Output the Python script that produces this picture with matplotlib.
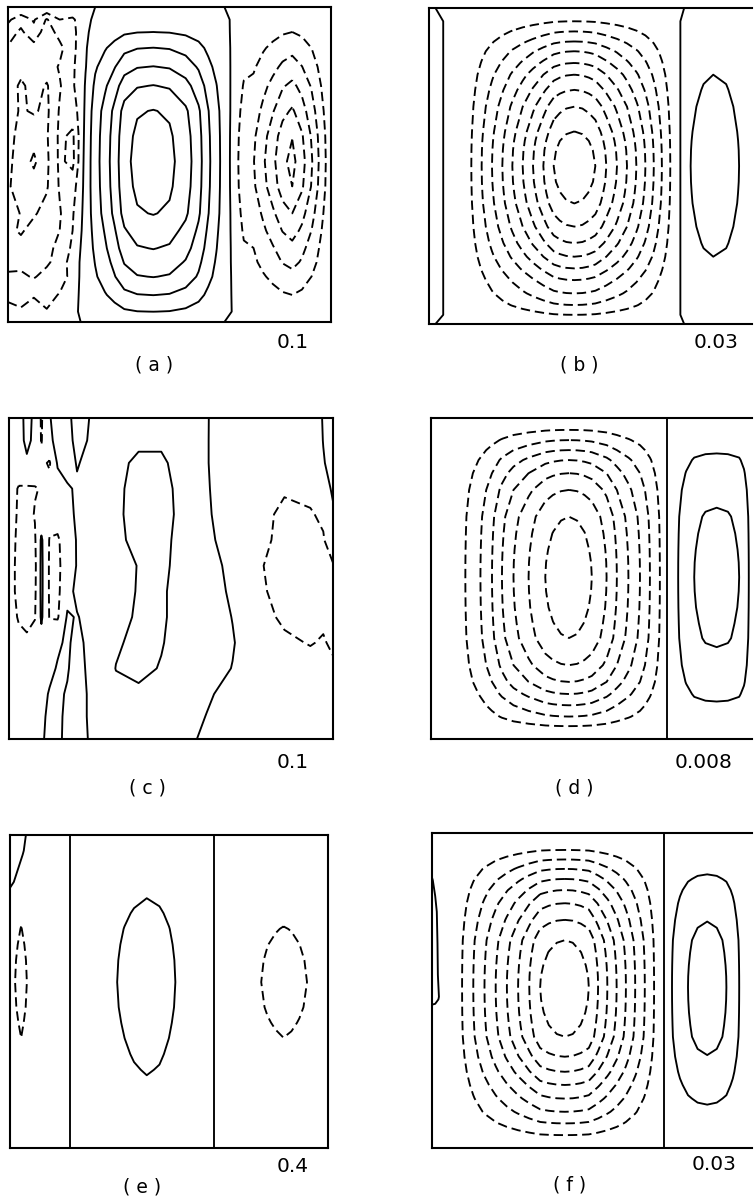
import numpy as np
import matplotlib
matplotlib.use("Agg")
import matplotlib.pyplot as plt

# ---------------- data (values in units of the contour interval) ----------------
# panel (a): positive cell + right negative cell (profiles), irregular left block
xa = [0, 0.04, 0.08, 0.12, 0.16, 0.20, 0.225, 0.24, 0.27, 0.30, 0.33, 0.36, 0.40, 0.45,
      0.50, 0.55, 0.59, 0.62, 0.645, 0.67, 0.70, 0.73, 0.76, 0.79, 0.82, 0.85, 0.88,
      0.91, 0.94, 0.97, 1.0]
xa_pos = [0, 0, 0, 0, 0, 0, 0, 0.8, 1.6, 2.5, 3.5, 4.7, 5.3, 5.45, 5.25, 4.5, 3.4, 2.2,
          1.4, 0.55, 0, 0, 0, 0, 0, 0, 0, 0, 0, 0, 0]
xa_neg = [0, 0, 0, 0, 0, 0, 0, 0, 0, 0, 0, 0, 0, 0, 0, 0, 0, 0, 0, 0,
          -0.42, -1.76, -1.95, -2.85, -3.75, -4.75, -5.3, -4.4, -3.1, -1.6, -0.3]
ya = [0, 0.04, 0.08, 0.13, 0.19, 0.25, 0.33, 0.41, 0.49, 0.57, 0.655, 0.71, 0.766, 0.81,
      0.856, 0.914, 0.967, 1.0]
ya_pos = [0, 0.09, 0.185, 0.37, 0.556, 0.74, 0.926, 0.98, 1.0, 0.98, 0.926, 0.83, 0.74,
          0.65, 0.556, 0.37, 0.185, 0]
ya_neg = [0, 0.1, 0.19, 0.32, 0.46, 0.61, 0.78, 0.935, 1.0, 0.943, 0.755, 0.64, 0.51,
          0.43, 0.32, 0.189, 0.08, 0]
a_left = [  # columns at xa[0:8], rows at ya
    [0.0, 0.0, 0.0, 0.0, 0.0, 0.0, 0.0, 0.0],
    [-0.8, -1.6, -0.9, -2.1, -1.0, -1.2, -0.5, -0.2],
    [-1.5, -2.2, -1.3, -2.6, -1.6, -1.3, -0.6, -0.15],
    [-2.1, -2.0, -2.4, -2.0, -2.3, -1.2, -0.7, -0.1],
    [-2.3, -2.6, -2.2, -2.5, -1.9, -1.1, -0.7, -0.05],
    [-2.4, -3.2, -2.6, -3.1, -2.1, -1.1, -0.6, 0.1],
    [-2.6, -3.1, -2.9, -3.2, -1.9, -1.5, -0.6, 0.2],
    [-2.7, -3.3, -3.6, -3.1, -1.8, -2.2, -0.6, 0.3],
    [-2.8, -3.4, -4.2, -3.2, -1.8, -2.3, -0.5, 0.35],
    [-2.9, -3.4, -3.5, -3.1, -1.9, -1.4, -0.4, 0.4],
    [-2.1, -3.1, -3.1, -2.7, -2.1, -1.1, -0.2, 0.4],
    [-2.8, -3.1, -2.7, -2.4, -2.0, -1.0, -0.1, 0.4],
    [-2.5, -2.7, -2.5, -2.2, -1.8, -0.8, 0.02, 0.4],
    [-2.2, -2.3, -2.0, -2.2, -1.5, -0.6, 0.1, 0.35],
    [-1.9, -1.8, -2.1, -1.6, -1.7, -0.5, 0.1, 0.3],
    [-1.3, -1.6, -1.1, -1.5, -0.9, -0.3, 0.1, 0.2],
    [-0.6, -0.8, -0.5, -0.9, -0.4, -0.1, 0.05, 0.1],
    [0.0, 0.0, 0.0, 0.0, 0.0, 0.0, 0.0, 0.0],
]

# panel (b)
xb = [0, 0.02, 0.05, 0.09, 0.131, 0.163, 0.195, 0.227, 0.258, 0.29, 0.322, 0.354, 0.386,
      0.405, 0.425, 0.45, 0.475, 0.495, 0.515, 0.549, 0.582, 0.613, 0.642, 0.670, 0.696,
      0.721, 0.747, 0.765, 0.79, 0.81, 0.85, 0.88, 0.92, 0.96, 1.0]
xb_prof = [0.3, 0.2, -0.05, -0.5, -1, -2, -3, -4, -5, -6, -7, -8, -9,
           -9.3, -9.51, -9.6, -9.51, -9.3, -9, -8, -7, -6, -5, -4, -3,
           -2, -1, -0.45, 0.4, 1.0, 1.45, 1.6, 1.45, 1.0, 0.2]
yb = [0, 0.042, 0.074, 0.106, 0.137, 0.174, 0.211, 0.259, 0.312, 0.391, 0.42, 0.45, 0.5,
      0.55, 0.585, 0.618, 0.692, 0.744, 0.787, 0.824, 0.861, 0.903, 0.940, 0.971, 1.0]
yb_prof = [0, 0.104, 0.208, 0.313, 0.417, 0.521, 0.625, 0.729, 0.833, 0.938, 0.967, 0.987,
           1.0, 0.988, 0.965, 0.938, 0.833, 0.729, 0.625, 0.521, 0.417, 0.313, 0.208,
           0.104, 0]

# panel (c)
xc = [0, 0.03, 0.055, 0.08, 0.10, 0.125, 0.15, 0.18, 0.21, 0.26, 0.33, 0.40, 0.47, 0.54,
      0.61, 0.69, 0.77, 0.85, 0.93, 0.97, 1.0]
yc = [0, 0.07, 0.14, 0.22, 0.30, 0.38, 0.46, 0.54, 0.62, 0.70, 0.78, 0.86, 0.93, 1.0]
c_vals = [
    [-0.6, -0.4, 0.3, -0.2, -1.1, -0.05, 0.3, 0.2, -0.3, 0.1, 0.6, 0.75, 0.8, 0.6, 0.05, -0.55, -0.7, -0.8, -0.5, 0.05, 0.3],
    [-0.7, -0.5, 0.3, -0.3, -1.05, -0.2, 0.3, 0.3, -0.25, 0.15, 0.7, 0.85, 0.9, 0.7, 0.05, -0.6, -0.75, -0.85, -0.55, 0.02, 0.3],
    [-0.8, -0.6, -0.2, -0.5, -0.8, -1.1, 0.1, 0.35, -0.05, 0.25, 0.8, 1.15, 1.1, 0.75, 0.05, -0.6, -0.8, -0.9, -0.7, -0.05, 0.25],
    [-0.7, -1.05, -1.1, -1.05, -0.95, -0.7, -0.4, -0.1, 0.1, 0.3, 0.85, 1.25, 1.2, 0.8, 0.08, -0.55, -0.8, -0.95, -0.85, -0.3, 0.1],
    [-0.3, -1.2, -1.3, -0.95, -0.7, -0.6, -0.5, -0.1, 0.05, 0.3, 0.85, 1.3, 1.25, 0.8, 0.12, -0.5, -0.85, -1.1, -1.05, -0.9, -0.1],
    [-0.4, -1.3, -1.5, -1.1, 0.15, -1.05, -1.15, -0.4, 0.05, 0.35, 0.8, 1.25, 1.2, 0.75, 0.2, -0.4, -0.85, -1.15, -1.15, -1.05, -0.6],
    [-0.4, -1.4, -1.7, -1.2, 0.2, -1.1, -1.2, -0.5, 0.05, 0.4, 0.7, 1.03, 1.15, 0.75, 0.3, -0.2, -0.95, -1.2, -1.2, -1.15, -1.05],
    [-0.4, -1.4, -1.6, -1.15, 0.2, -1.1, -1.2, -0.3, 0.2, 0.4, 0.7, 1.05, 1.1, 0.7, 0.35, -0.12, -0.9, -1.2, -1.25, -1.2, -1.1],
    [-0.5, -1.1, -1.3, -1.05, 0.15, -1.05, -1.1, 0.1, -0.05, 0.35, 0.75, 1.1, 1.1, 0.7, 0.4, -0.02, -0.8, -1.1, -1.15, -1.1, -1.05],
    [-0.5, -0.7, -0.8, -0.6, -0.4, -0.3, -0.1, 0.1, -0.2, 0.3, 0.9, 1.2, 1.05, 0.65, 0.4, 0.05, -0.5, -0.9, -1.03, -0.95, -1.1],
    [-0.5, -0.6, -0.6, -0.5, -0.35, -0.15, 0.05, 0.05, -0.25, 0.25, 1.02, 1.2, 0.95, 0.55, 0.3, -0.02, -0.5, -0.75, -0.8, -0.8, -0.9],
    [-0.5, -0.5, -0.5, -0.4, -0.2, 0.05, 0.1, -0.05, -0.3, 0.2, 0.8, 0.85, 0.6, 0.35, 0.1, -0.25, -0.5, -0.6, -0.6, -0.6, -0.6],
    [-0.5, -0.5, -0.45, -0.35, -0.1, 0.1, 0.1, -0.1, -0.3, 0.2, 0.6, 0.6, 0.45, 0.3, -0.02, -0.35, -0.5, -0.55, -0.55, -0.5, -0.5],
    [-0.5, -0.45, -0.4, -0.3, -0.05, 0.1, 0.08, -0.1, -0.3, 0.15, 0.5, 0.5, 0.4, 0.2, -0.15, -0.4, -0.5, -0.5, -0.5, -0.5, -0.5],
]

# panel (d)
xd = [0, 0.05, 0.107, 0.154, 0.19, 0.221, 0.257, 0.304, 0.356, 0.38, 0.405, 0.43, 0.455,
      0.478, 0.501, 0.547, 0.579, 0.615, 0.651, 0.682, 0.713, 0.728, 0.745, 0.77, 0.795,
      0.82, 0.855, 0.89, 0.925, 0.96, 0.975, 0.99, 1.0]
xd_prof = [0, -0.45, -1, -2, -3, -4, -5, -6, -7, -7.27, -7.44, -7.5, -7.44, -7.27, -7,
           -6, -5, -4, -3, -2, -1, -0.35, 0.35, 1.0, 1.55, 2.0, 2.2, 2.25, 2.2, 2.0, 1.6,
           1.0, 0.6]
yd = [0, 0.037, 0.069, 0.100, 0.131, 0.172, 0.224, 0.307, 0.36, 0.41, 0.45, 0.496, 0.54,
      0.59, 0.64, 0.686, 0.77, 0.822, 0.86, 0.895, 0.93, 0.96, 1.0]
yd_prof = [0.02, 0.133, 0.267, 0.4, 0.533, 0.667, 0.8, 0.933, 0.966, 0.986, 0.996, 1.0,
           0.996, 0.984, 0.96, 0.933, 0.8, 0.667, 0.533, 0.4, 0.267, 0.133, 0.02]

# panel (e)
xe = [0, 0.016, 0.035, 0.053, 0.10, 0.15, 0.23, 0.28, 0.31, 0.337, 0.36, 0.39, 0.43, 0.47,
      0.50, 0.52, 0.58, 0.63, 0.68, 0.73, 0.76, 0.79, 0.81, 0.835, 0.86, 0.885, 0.91,
      0.934, 0.97, 1.0]
xe_prof = [-0.6, -1.0, -1.2, -1.0, -0.55, -0.25, 0.25, 0.6, 0.8, 1.0, 1.2, 1.42, 1.6, 1.45,
           1.2, 1.0, 0.5, 0.1, -0.3, -0.65, -0.85, -1.0, -1.08, -1.15, -1.2, -1.16, -1.09,
           -1.0, -0.7, -0.5]
ye = [0, 0.05, 0.1, 0.15, 0.2, 0.25, 0.3, 0.35, 0.4, 0.47, 0.55, 0.6, 0.65, 0.7, 0.75,
      0.8, 0.85, 0.93, 1.0]
ye_prof = [0.03, 0.15, 0.3, 0.46, 0.62, 0.745, 0.85, 0.92, 0.97, 1.0, 0.96, 0.9, 0.83,
           0.75, 0.66, 0.56, 0.45, 0.25, 0.03]
# small corner feature of (e)
xe_corner = [0, 0.02, 0.04, 0.06]
ye_corner = [0, 0.05, 0.1, 0.15, 0.2]
e_corner = [[1, 1, 1, 0], [1, 0.9, 0.6, 0], [1, 0.7, 0.2, 0], [0.8, 0.3, 0, 0], [0, 0, 0, 0]]

# panel (f)
xf = [0, 0.05, 0.094, 0.129, 0.164, 0.199, 0.234, 0.269, 0.304, 0.338, 0.365, 0.39, 0.415,
      0.44, 0.465, 0.49, 0.519, 0.548, 0.577, 0.606, 0.635, 0.665, 0.694, 0.712, 0.738,
      0.75, 0.775, 0.80, 0.83, 0.86, 0.89, 0.92, 0.94, 0.96, 1.0]
xf_prof = [0, -0.55, -1, -2, -3, -4, -5, -6, -7, -8, -8.29, -8.45, -8.5, -8.45, -8.28, -8,
           -7, -6, -5, -4, -3, -2, -1, -0.45, 0.45, 1.0, 1.55, 2.0, 2.3, 2.4, 2.3, 2.0,
           1.55, 1.0, 0.4]
yf = [0, 0.054, 0.084, 0.114, 0.146, 0.181, 0.223, 0.276, 0.340, 0.38, 0.42, 0.455, 0.49,
      0.53, 0.57, 0.61, 0.647, 0.710, 0.758, 0.800, 0.843, 0.885, 0.922, 0.959, 1.0]
yf_prof = [0.02, 0.118, 0.235, 0.353, 0.471, 0.588, 0.706, 0.824, 0.941, 0.968, 0.987,
           0.997, 1.0, 0.996, 0.985, 0.965, 0.941, 0.824, 0.706, 0.588, 0.471, 0.353,
           0.235, 0.118, 0.02]
# thin sliver along the left wall of (f)
xf_sliver = [0.0, 0.01, 0.02, 0.03]
yf_sliver = [0.10, 0.15, 0.25, 0.35, 0.45, 0.52, 0.57]
f_sliver = [[0, 0, 0, 0], [0.6, 0.2, 0, 0], [1, 0.8, 0.2, 0], [1, 1, 0.3, 0],
            [1, 1, 0.4, 0], [1, 0.9, 0.6, 0], [0, 0, 0, 0]]

intervals = ["0.1", "0.03", "0.1", "0.008", "0.4", "0.03"]
panel_names = ["( a )", "( b )", "( c )", "( d )", "( e )", "( f )"]

# ---------------- figure ----------------
W, H = 754, 1201
fig = plt.figure(figsize=(W / 100, H / 100), dpi=100)
fig.patch.set_facecolor("white")

DASH = (0, (5.0, 2.6))
LW = 1.35


def make_axes(left, top, right, bottom, right_spine=True):
    ax = fig.add_axes([left / W, 1 - bottom / H, (right - left) / W, (bottom - top) / H])
    ax.set_xlim(0, 1)
    ax.set_ylim(1, 0)
    ax.set_xticks([])
    ax.set_yticks([])
    for s in ax.spines.values():
        s.set_linewidth(1.5)
    ax.spines["right"].set_visible(right_spine)
    return ax


def draw_field(ax, x, y, Z):
    Z = np.asarray(Z, dtype=float)
    lv = np.arange(np.floor(Z.min()), np.ceil(Z.max()) + 1)
    lv = lv[(lv > Z.min()) & (lv < Z.max())]
    ls = [DASH if v < 0 else "solid" for v in lv]
    ax.contour(x, y, Z, levels=lv, colors="black", linewidths=LW, linestyles=ls)


boxes = [(8, 7, 331, 322), (429, 8, 752, 324),
         (9, 418, 333, 739), (431, 418, 752, 739),
         (10, 835, 328, 1148), (432, 833, 752, 1148)]
axes = [make_axes(*b, right_spine=(i % 2 == 0)) for i, b in enumerate(boxes)]

# (a)
Za = np.outer(ya_pos, xa_pos) + np.outer(ya_neg, xa_neg)
Za[:, :8] = np.array(a_left)
draw_field(axes[0], xa, ya, Za)
# (b)
draw_field(axes[1], xb, yb, np.outer(yb_prof, xb_prof))
# (c)
draw_field(axes[2], xc, yc, c_vals)
# (d)
draw_field(axes[3], xd, yd, np.outer(yd_prof, xd_prof))
# (e)
draw_field(axes[4], xe, ye, np.outer(ye_prof, xe_prof))
axes[4].contour(xe_corner, ye_corner, e_corner, levels=[0.5], colors="black", linewidths=LW)
# (f)
draw_field(axes[5], xf, yf, np.outer(yf_prof, xf_prof))
axes[5].contour(xf_sliver, yf_sliver, f_sliver, levels=[0.5], colors="black", linewidths=LW)

# labels
interval_pos = [(293, 342), (716, 342), (293, 762), (704, 762), (293, 1167), (714, 1165)]
name_pos = [(154, 365), (579, 365), (147, 788), (574, 788), (142, 1187), (570, 1185)]
for txt, (px, py) in zip(intervals, interval_pos):
    fig.text(px / W, 1 - py / H, txt, ha="center", va="center", fontsize=14.5,
             family="DejaVu Sans")
for txt, (px, py) in zip(panel_names, name_pos):
    fig.text(px / W, 1 - py / H, txt, ha="center", va="center", fontsize=13.5,
             family="DejaVu Sans")

fig.savefig("out.png", dpi=100, facecolor="white")
